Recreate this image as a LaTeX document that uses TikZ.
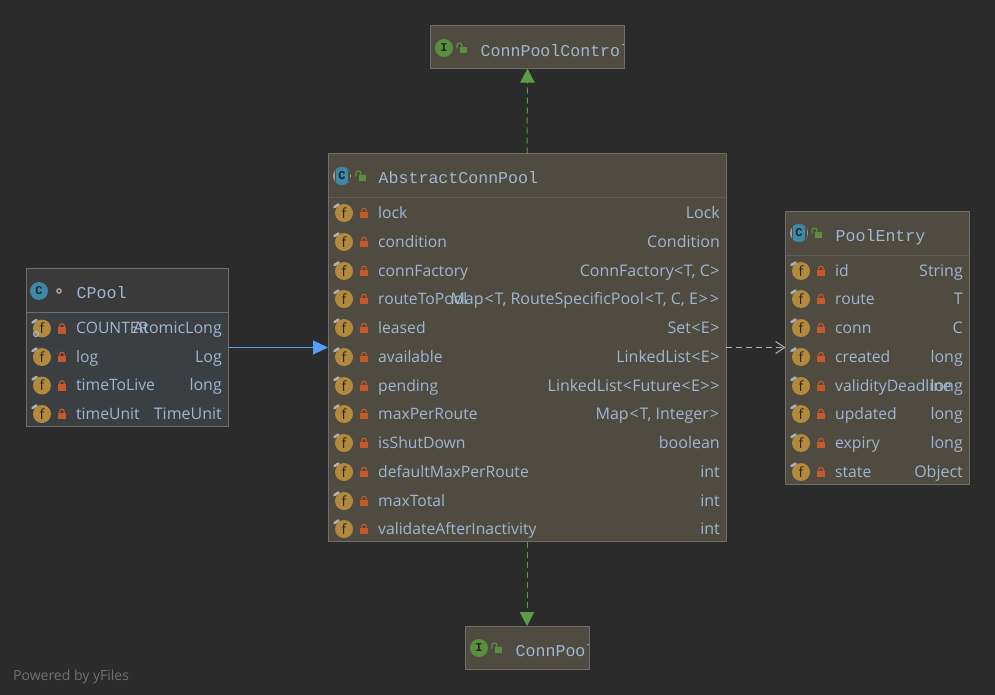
\documentclass[tikz,border=0pt]{standalone}
\usepackage{fontspec}
\setmainfont{Open Sans}
\newfontfamily\titlefont{Liberation Mono}
\usetikzlibrary{arrows.meta}
\definecolor{bgc}{HTML}{2B2B2B}
\definecolor{warmbox}{HTML}{4F4B41}
\definecolor{coolbox}{HTML}{3C3F41}
\definecolor{coolhead}{HTML}{3A3A3A}
\definecolor{edgec}{HTML}{6E6E6E}
\definecolor{sepwarm}{HTML}{5E5C54}
\definecolor{txtc}{HTML}{A0B6D2}
\definecolor{fieldc}{HTML}{B38A3C}
\definecolor{lockc}{HTML}{C4592B}
\definecolor{teal}{HTML}{3A89A6}
\definecolor{greenc}{HTML}{5A8F3D}
\definecolor{pinc}{HTML}{A8B0B8}
\definecolor{arrowgreen}{HTML}{5F9A47}
\definecolor{arrowblue}{HTML}{589DF6}
\definecolor{dashc}{HTML}{B0B0B0}
\newcommand{\wlt}{\kern.9pt<\kern.9pt}
\newcommand{\wgt}{\kern.9pt>\kern.9pt}
\newcommand{\mlt}{\kern.4pt<\kern.4pt}
\newcommand{\mgt}{\kern.4pt>\kern.4pt}
\tikzset{
  x=1pt,y=-1pt,
  umlbox/.style={draw=edgec,line width=1pt,anchor=north west,inner sep=0pt,outer sep=0pt},
  warm/.style={fill=warmbox},
  cool/.style={fill=coolbox},
  titletext/.style={anchor=base west,inner sep=0pt,text=txtc,font=\titlefont\fontsize{16.6}{18}\selectfont},
  nametext/.style={anchor=base west,inner sep=0pt,text=txtc,font=\fontsize{15.7}{18}\selectfont},
  typetext/.style={anchor=base east,inner sep=0pt,text=txtc,font=\fontsize{16}{18}\selectfont},
  fletter/.style={inner sep=0pt,text=bgc!85!black,font=\fontsize{14}{14}\selectfont},
  iconletter/.style={inner sep=0pt,text=bgc!85!black,font=\titlefont\bfseries\fontsize{12}{12}\selectfont},
  dep/.style={dashed,dash pattern=on 6pt off 4pt,line width=1pt},
  realize/.style={dep,draw=arrowgreen,-{Triangle[fill=arrowgreen,length=14pt,width=14.5pt]}},
  extend/.style={draw=arrowblue,line width=1pt,-{Triangle[fill=arrowblue,length=15pt,width=14pt]}},
  uses/.style={dep,draw=dashc,-{Straight Barb[length=9pt,width=12pt,line width=1pt]}},
}
\newcommand{\lockicon}[3]{%
  \fill[#3] (#1-4,#2-1) rectangle (#1+4,#2+5.5);
  \draw[#3,line width=1.2pt] (#1-2.3,#2-1) -- (#1-2.3,#2-2) arc[start angle=180,end angle=360,radius=2.3] -- (#1+2.3,#2-1);
}
\newcommand{\openlock}[3]{%
  \fill[#3] (#1-1,#2-2) rectangle (#1+6,#2+4);
  \draw[#3,line width=1.2pt] (#1-4,#2-0.5) -- (#1-4,#2-3.5) arc[start angle=180,end angle=360,radius=2.5] -- (#1+1,#2-2);
}
% field row: #1 text x, #2 right x, #3 y, #4 id, #5 name, #6 type
\newcommand{\fieldrow}[6]{%
  \fill[fieldc] (#1-34,#3+0.5) circle[radius=9];
  \node[fletter] at (#1-34,#3+0.5) {f};
  \draw[pinc,line width=2.6pt,line cap=round] (#1-43.5,#3-5.5) -- (#1-39.5,#3-8);
  \lockicon{#1-14}{#3}{lockc}
  \node[nametext] (n#4) at (#1,#3+5.5) {#5};
  \node[typetext] (t#4) at (#2,#3+5.5) {#6};
}
\newcommand{\headicon}[4]{% x y colour letter
  \fill[#3] (#1,#2) circle[radius=9];
  \node[iconletter] at (#1,#2) {#4};
}
\newcommand{\abstracticon}[2]{%
  \begin{scope}
    \clip (#1,#2) circle[radius=9];
    \fill[pinc!80!warmbox] (#1-9,#2-9) rectangle (#1+9,#2+9);
    \fill[warmbox] (#1-7.5,#2-9) rectangle (#1+7.5,#2+9);
    \fill[teal] (#1-6,#2-9) rectangle (#1+6,#2+9);
  \end{scope}
  \node[iconletter] at (#1,#2) {C};
}
\begin{document}
\begin{tikzpicture}
\useasboundingbox (0,0) rectangle (995,695);
\fill[bgc] (0,0) rectangle (995,695);

% ---- ConnPoolControl
\node[umlbox,warm,minimum width=194pt,minimum height=43pt] (control) at (430.5,25.7) {};
\begin{scope}
  \clip (430.5,25.7) rectangle (624.5,68.7);
  \node[titletext] (controltitle) at (480.5,56.5) {ConnPoolControl};
\end{scope}
\headicon{444}{48}{greenc}{I}
\openlock{461}{49}{greenc}
\draw[edgec,line width=1pt] (430.5,25.7) rectangle (624.5,68.7);

% ---- ConnPool
\node[umlbox,warm,minimum width=124pt,minimum height=43pt] (connpool) at (465.5,626) {};
\begin{scope}
  \clip (465.5,626) rectangle (589.5,669);
  \node[titletext] (pooltitle) at (515.5,656.5) {ConnPool};
\end{scope}
\headicon{479}{648}{greenc}{I}
\openlock{496}{649}{greenc}
\draw[edgec,line width=1pt] (465.5,626) rectangle (589.5,669);

% ---- AbstractConnPool
\node[umlbox,warm,minimum width=398pt,minimum height=388pt] (abstract) at (328,153.5) {};
\draw[sepwarm,line width=1pt] (328.5,197) -- (725.5,197);
\abstracticon{342}{176}
\openlock{360}{177}{greenc}
\node[titletext] (abstracttitle) at (378.5,183.5) {AbstractConnPool};
\fieldrow{378}{720}{212.5}{a1}{lock}{Lock}
\fieldrow{378}{720}{241.5}{a2}{condition}{Condition}
\fieldrow{378}{720}{270.5}{a3}{connFactory}{ConnFactory\mlt T, C\mgt}
\fieldrow{378}{720}{298.5}{a4}{routeToPool}{Map\wlt T, RouteSpecificPool\wlt T, C, E\wgt\wgt}
\fieldrow{378}{720}{327.5}{a5}{leased}{Set\mlt E\mgt}
\fieldrow{378}{720}{356.5}{a6}{available}{LinkedList\mlt E\mgt}
\fieldrow{378}{720}{385.5}{a7}{pending}{LinkedList\mlt Future\mlt E\mgt\mgt}
\fieldrow{378}{720}{413.5}{a8}{maxPerRoute}{Map\wlt T, Integer\wgt}
\fieldrow{378}{720}{442.5}{a9}{isShutDown}{boolean}
\fieldrow{378}{720}{471.5}{a10}{defaultMaxPerRoute}{int}
\fieldrow{378}{720}{500.5}{a11}{maxTotal}{int}
\fieldrow{378}{720}{528.5}{a12}{validateAfterInactivity}{int}

% ---- CPool
\node[umlbox,cool,minimum width=202pt,minimum height=158pt] (cpool) at (26.5,268.5) {};
\fill[coolhead] (27,269) rectangle (228,312);
\draw[edgec,line width=1pt] (26.5,312) -- (228.5,312);
\draw[edgec,line width=1pt] (26.5,268.5) rectangle (228.5,426.5);
\headicon{39}{291}{teal}{C}
\draw[pinc,line width=1.2pt] (59,291) circle[radius=2.2];
\node[titletext] (cpooltitle) at (76.5,298.5) {CPool};
\fieldrow{76}{222}{328}{c1}{COUNTER}{AtomicLong}
\draw[pinc,line width=1.4pt] (36,334) circle[radius=2.4];
\fieldrow{76}{222}{356.5}{c2}{log}{Log}
\fieldrow{76}{222}{385}{c3}{timeToLive}{long}
\fieldrow{76}{222}{413.5}{c4}{timeUnit}{TimeUnit}

% ---- PoolEntry
\node[umlbox,warm,minimum width=184pt,minimum height=273pt] (entry) at (785.5,211) {};
\draw[sepwarm,line width=1pt] (786,255) -- (969,255);
\abstracticon{799}{233}
\openlock{816}{234}{greenc}
\node[titletext] (entrytitle) at (835.5,241.5) {PoolEntry};
\fieldrow{835}{963}{270.5}{e1}{id}{String}
\fieldrow{835}{963}{298.5}{e2}{route}{T}
\fieldrow{835}{963}{327.5}{e3}{conn}{C}
\fieldrow{835}{963}{356.5}{e4}{created}{long}
\fieldrow{835}{963}{385.5}{e5}{validityDeadline}{long}
\fieldrow{835}{963}{413.5}{e6}{updated}{long}
\fieldrow{835}{963}{442.5}{e7}{expiry}{long}
\fieldrow{835}{963}{471.5}{e8}{state}{Object}

% ---- connectors
\draw[realize] (abstract.north) -- (control.south);
\draw[realize] (abstract.south) -- (abstract.south |- connpool.north);
\draw[extend] (cpool.east) -- (abstract.west |- cpool.east);
\draw[uses] (abstract.east) -- (entry.west);

\node[anchor=base west,inner sep=0pt,text=white!33!bgc,font=\fontsize{14}{16}\selectfont] (powered) at (13,680) {Powered by yFiles};
\end{tikzpicture}
\end{document}
